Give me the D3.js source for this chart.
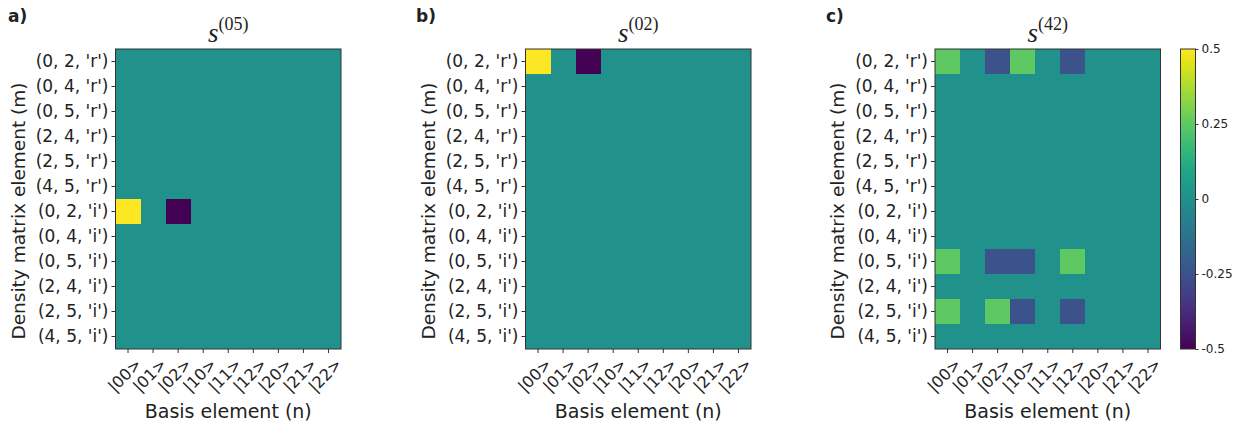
<!DOCTYPE html>
<html>
<head>
<meta charset="utf-8">
<script src="https://cdn.jsdelivr.net/npm/d3@7"></script>
<style>
  body { margin: 0; background: #fff; }
  svg text { font-family: "DejaVu Sans", sans-serif; fill: #222; }
</style>
</head>
<body>
<script>
const rowLabels = ["(0, 2, 'r')", "(0, 4, 'r')", "(0, 5, 'r')", "(2, 4, 'r')", "(2, 5, 'r')", "(4, 5, 'r')",
                   "(0, 2, 'i')", "(0, 4, 'i')", "(0, 5, 'i')", "(2, 4, 'i')", "(2, 5, 'i')", "(4, 5, 'i')"];
const colLabels = ['|00>', '|01>', '|02>', '|10>', '|11>', '|12>', '|20>', '|21>', '|22>'];
const cbarTicks = [0.5, 0.25, 0, -0.25, -0.5];
const cbarTickLabels = ['0.5', '0.25', '0', '-0.25', '-0.5'];

const s05 = [
  [0, 0, 0, 0, 0, 0, 0, 0, 0],
  [0, 0, 0, 0, 0, 0, 0, 0, 0],
  [0, 0, 0, 0, 0, 0, 0, 0, 0],
  [0, 0, 0, 0, 0, 0, 0, 0, 0],
  [0, 0, 0, 0, 0, 0, 0, 0, 0],
  [0, 0, 0, 0, 0, 0, 0, 0, 0],
  [0.5, 0, -0.5, 0, 0, 0, 0, 0, 0],
  [0, 0, 0, 0, 0, 0, 0, 0, 0],
  [0, 0, 0, 0, 0, 0, 0, 0, 0],
  [0, 0, 0, 0, 0, 0, 0, 0, 0],
  [0, 0, 0, 0, 0, 0, 0, 0, 0],
  [0, 0, 0, 0, 0, 0, 0, 0, 0]
];
const s02 = [
  [0.5, 0, -0.5, 0, 0, 0, 0, 0, 0],
  [0, 0, 0, 0, 0, 0, 0, 0, 0],
  [0, 0, 0, 0, 0, 0, 0, 0, 0],
  [0, 0, 0, 0, 0, 0, 0, 0, 0],
  [0, 0, 0, 0, 0, 0, 0, 0, 0],
  [0, 0, 0, 0, 0, 0, 0, 0, 0],
  [0, 0, 0, 0, 0, 0, 0, 0, 0],
  [0, 0, 0, 0, 0, 0, 0, 0, 0],
  [0, 0, 0, 0, 0, 0, 0, 0, 0],
  [0, 0, 0, 0, 0, 0, 0, 0, 0],
  [0, 0, 0, 0, 0, 0, 0, 0, 0],
  [0, 0, 0, 0, 0, 0, 0, 0, 0]
];
const s42 = [
  [0.25, 0, -0.25, 0.25, 0, -0.25, 0, 0, 0],
  [0, 0, 0, 0, 0, 0, 0, 0, 0],
  [0, 0, 0, 0, 0, 0, 0, 0, 0],
  [0, 0, 0, 0, 0, 0, 0, 0, 0],
  [0, 0, 0, 0, 0, 0, 0, 0, 0],
  [0, 0, 0, 0, 0, 0, 0, 0, 0],
  [0, 0, 0, 0, 0, 0, 0, 0, 0],
  [0, 0, 0, 0, 0, 0, 0, 0, 0],
  [0.25, 0, -0.25, -0.25, 0, 0.25, 0, 0, 0],
  [0, 0, 0, 0, 0, 0, 0, 0, 0],
  [0.25, 0, 0.25, -0.25, 0, -0.25, 0, 0, 0],
  [0, 0, 0, 0, 0, 0, 0, 0, 0]
];

const panels = [
  { tag: 'a)', sup: '(05)', data: s05, left: 115.5, tagX: 8 },
  { tag: 'b)', sup: '(02)', data: s02, left: 525.5, tagX: 416 },
  { tag: 'c)', sup: '(42)', data: s42, left: 935, tagX: 826 }
];

const plotTop = 49;
const plotW = 225.5;
const plotH = 300;

const color = d3.scaleSequential(d3.interpolateViridis).domain([-0.5, 0.5]);

const svg = d3.select('body')
  .append('svg')
  .attr('width', 1244)
  .attr('height', 430);

const xScale = d3.scaleBand().domain(colLabels).range([0, plotW]);
const yScale = d3.scaleBand().domain(rowLabels).range([0, plotH]);

panels.forEach(p => {
  svg.append('text')
    .attr('x', p.tagX)
    .attr('y', 22)
    .style('font-size', '17px')
    .style('font-weight', 'bold')
    .text(p.tag);

  const g = svg.append('g')
    .attr('transform', 'translate(' + p.left + ',' + plotTop + ')');

  // zero background, then the cells on top
  g.append('rect')
    .attr('width', plotW)
    .attr('height', plotH)
    .attr('fill', color(0));

  const cells = [];
  p.data.forEach((row, i) => row.forEach((v, j) => cells.push({ r: rowLabels[i], c: colLabels[j], v })));
  g.selectAll('rect.cell')
    .data(cells.filter(d => d.v !== 0))
    .enter()
    .append('rect')
    .attr('class', 'cell')
    .attr('x', d => xScale(d.c))
    .attr('y', d => yScale(d.r))
    .attr('width', xScale.bandwidth())
    .attr('height', yScale.bandwidth())
    .attr('fill', d => color(d.v))
    .attr('shape-rendering', 'crispEdges');

  g.append('rect')
    .attr('width', plotW)
    .attr('height', plotH)
    .attr('fill', 'none')
    .attr('stroke', '#333')
    .attr('stroke-width', 1);

  const yAxis = g.append('g')
    .call(d3.axisLeft(yScale).tickSize(4).tickPadding(3));
  yAxis.select('.domain').remove();
  yAxis.selectAll('line').attr('stroke', '#333');
  yAxis.selectAll('text').style('font-size', '17px').attr('fill', '#222');

  const xAxis = g.append('g')
    .attr('transform', 'translate(0,' + plotH + ')')
    .call(d3.axisBottom(xScale).tickSize(4).tickPadding(3));
  xAxis.select('.domain').remove();
  xAxis.selectAll('line').attr('stroke', '#333');
  xAxis.selectAll('text')
    .style('font-size', '16px')
    .attr('fill', '#222')
    .attr('text-anchor', 'end')
    .attr('dy', '0.3em')
    .attr('transform', 'translate(6,8) rotate(-45)');

  // title: italic s with superscript
  const title = svg.append('text')
    .attr('x', p.left + plotW / 2)
    .attr('y', 42)
    .attr('text-anchor', 'middle')
    .style('font-family', '"Liberation Serif", "DejaVu Serif", serif');
  title.append('tspan')
    .style('font-size', '27px')
    .style('font-style', 'italic')
    .text('s');
  title.append('tspan')
    .attr('dy', -12)
    .style('font-size', '18px')
    .text(p.sup);

  svg.append('text')
    .attr('x', p.left + plotW / 2)
    .attr('y', 418)
    .attr('text-anchor', 'middle')
    .style('font-size', '19px')
    .text('Basis element (n)');

  svg.append('text')
    .attr('transform', 'translate(' + (p.left - 91) + ',' + (plotTop + plotH / 2 + 12) + ') rotate(-90)')
    .attr('text-anchor', 'middle')
    .style('font-size', '18.5px')
    .text('Density matrix element (m)');
});

// colorbar
const cbX = 1180.5, cbW = 15;
const defs = svg.append('defs');
const grad = defs.append('linearGradient')
  .attr('id', 'cbgrad')
  .attr('x1', 0).attr('y1', 1).attr('x2', 0).attr('y2', 0);
d3.range(0, 1.0001, 0.05).forEach(t => {
  grad.append('stop')
    .attr('offset', t)
    .attr('stop-color', d3.interpolateViridis(t));
});
svg.append('rect')
  .attr('x', cbX)
  .attr('y', plotTop)
  .attr('width', cbW)
  .attr('height', plotH)
  .attr('fill', 'url(#cbgrad)')
  .attr('stroke', '#333')
  .attr('stroke-width', 1);

const cbScale = d3.scaleLinear().domain([-0.5, 0.5]).range([plotTop + plotH, plotTop]);
const cbAxis = svg.append('g')
  .attr('transform', 'translate(' + (cbX + cbW) + ',0)')
  .call(d3.axisRight(cbScale).tickValues(cbarTicks)
    .tickFormat((d, i) => cbarTickLabels[i]).tickSize(3).tickPadding(3));
cbAxis.select('.domain').remove();
cbAxis.selectAll('line').attr('stroke', '#333');
cbAxis.selectAll('text').style('font-size', '12px').attr('fill', '#222');
</script>
</body>
</html>
